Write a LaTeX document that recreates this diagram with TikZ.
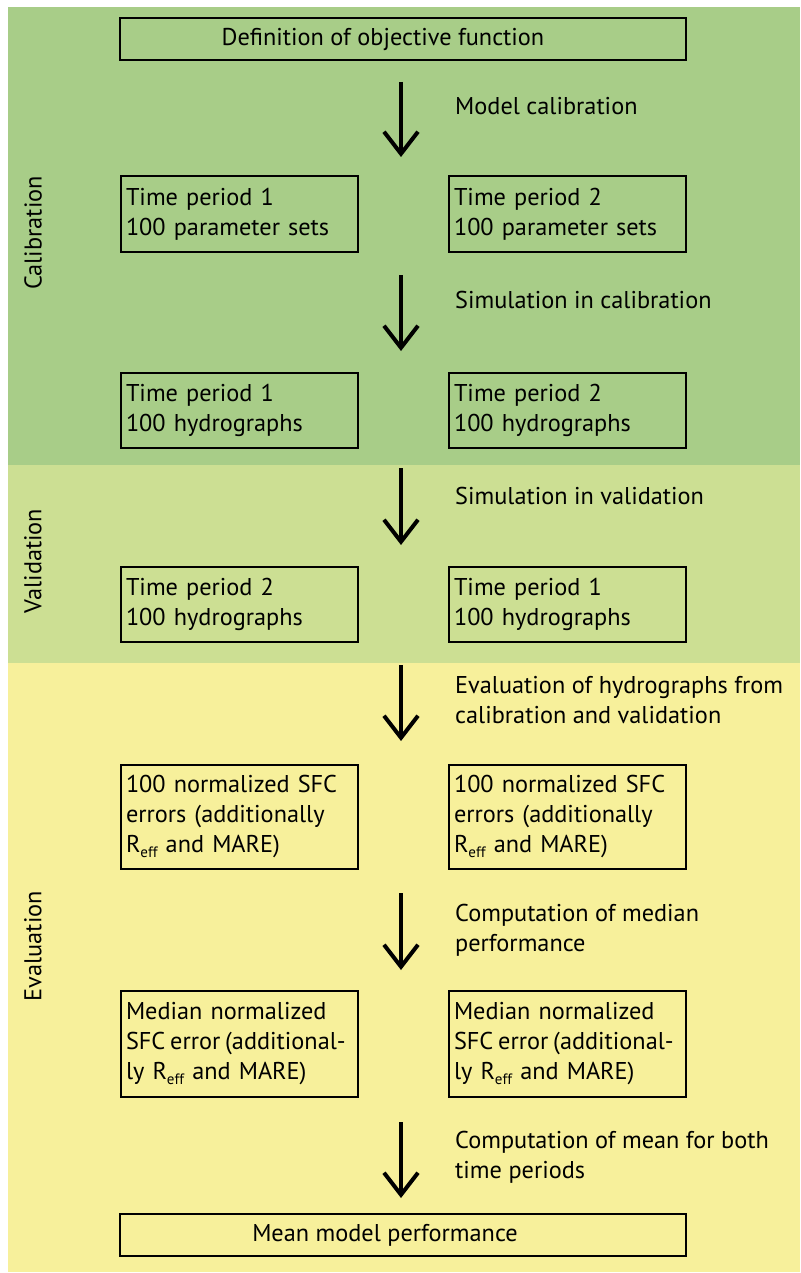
\documentclass[tikz,border=0pt]{standalone}
\usepackage{fontspec}
\setmainfont{PT Sans}
\usetikzlibrary{arrows.meta}
\definecolor{calgreen}{RGB}{168,205,136}
\definecolor{valgreen}{RGB}{204,223,147}
\definecolor{evalyel}{RGB}{247,240,155}
\tikzset{
  box/.style={draw=black, line width=2pt, anchor=north west, inner xsep=5pt, inner ysep=0pt,
    align=left, font=\fontsize{24.3}{30}\selectfont},
  smallbox/.style={box, text width=227pt},
  widebox/.style={draw=black, line width=2pt, minimum width=566pt, minimum height=42pt,
    inner sep=0pt, font=\fontsize{24.3}{30}\selectfont},
  flowarrow/.style={line width=4pt, -{Straight Barb[length=22pt,width=34pt,line width=4pt]}},
  steplabel/.style={anchor=west, align=left, inner sep=0pt, font=\fontsize{24.3}{30}\selectfont},
  sidelabel/.style={rotate=90, inner sep=0pt, font=\fontsize{24.3}{30}\selectfont}
}
\newcommand{\sbeff}{\raisebox{-0.35ex}{\fontsize{15}{15}\selectfont eff}}
\newcommand{\sfcline}{\makebox[227pt][l]{\spaceskip=0.2em SFC error (additional-}}
\begin{document}
\begin{tikzpicture}[x=1pt,y=-1pt]
\useasboundingbox (0,0) rectangle (800,1273);
\fill[calgreen] (8,7) rectangle (800,465);
\fill[valgreen] (8,465) rectangle (800,663);
\fill[evalyel] (8,663) rectangle (800,1272);

\node[sidelabel] (lcal) at (33,233) {Calibration};
\node[sidelabel] (lval) at (33,561) {Validation};
\node[sidelabel] (leval) at (33,946) {Evaluation};

\node[widebox] (top) at (403,39) {\hspace*{-40pt}Definition of objective function};

\node[smallbox, minimum height=76pt] (a1) at (120,175) {Time period 1\\100 parameter sets};
\node[smallbox, minimum height=76pt] (b1) at (448,175) {Time period 2\\100 parameter sets};
\node[smallbox, minimum height=75pt] (a2) at (120,372) {Time period 1\\100 hydrographs};
\node[smallbox, minimum height=75pt] (b2) at (448,372) {Time period 2\\100 hydrographs};
\node[smallbox, minimum height=75pt] (a3) at (120,566) {Time period 2\\100 hydrographs};
\node[smallbox, minimum height=75pt] (b3) at (448,566) {Time period 1\\100 hydrographs};
\node[smallbox, minimum height=104pt] (a4) at (120,764) {100 normalized SFC\\errors (additionally\\R\sbeff{} and MARE)};
\node[smallbox, minimum height=104pt] (b4) at (448,764) {100 normalized SFC\\errors (additionally\\R\sbeff{} and MARE)};
\node[smallbox, minimum height=106pt] (a5) at (120,990) {Median normalized\\\sfcline\\ly R\sbeff{} and MARE)};
\node[smallbox, minimum height=106pt] (b5) at (448,990) {Median normalized\\\sfcline\\ly R\sbeff{} and MARE)};

\node[widebox] (bot) at (403,1235) {\hspace*{-36pt}Mean model performance};

\coordinate (s1) at (401,82);  \coordinate (e1) at (401,157);
\coordinate (s2) at (401,275); \coordinate (e2) at (401,351);
\coordinate (s3) at (401,468); \coordinate (e3) at (401,545);
\coordinate (s4) at (401,665); \coordinate (e4) at (401,741);
\coordinate (s5) at (401,893); \coordinate (e5) at (401,970);
\coordinate (s6) at (401,1122); \coordinate (e6) at (401,1198);
\foreach \i in {1,...,6} {\draw[flowarrow] (s\i) -- (e\i);}

\node[steplabel] (t1) at (455,106) {Model calibration};
\node[steplabel] (t2) at (455,300) {Simulation in calibration};
\node[steplabel] (t3) at (455,496) {Simulation in validation};
\node[steplabel] (t4) at (455,700) {Evaluation of hydrographs from\\calibration and validation};
\node[steplabel] (t5) at (455,930) {Computation of median\\performance};
\node[steplabel] (t6) at (455,1157) {Computation of mean for both\\time periods};
\end{tikzpicture}
\end{document}
